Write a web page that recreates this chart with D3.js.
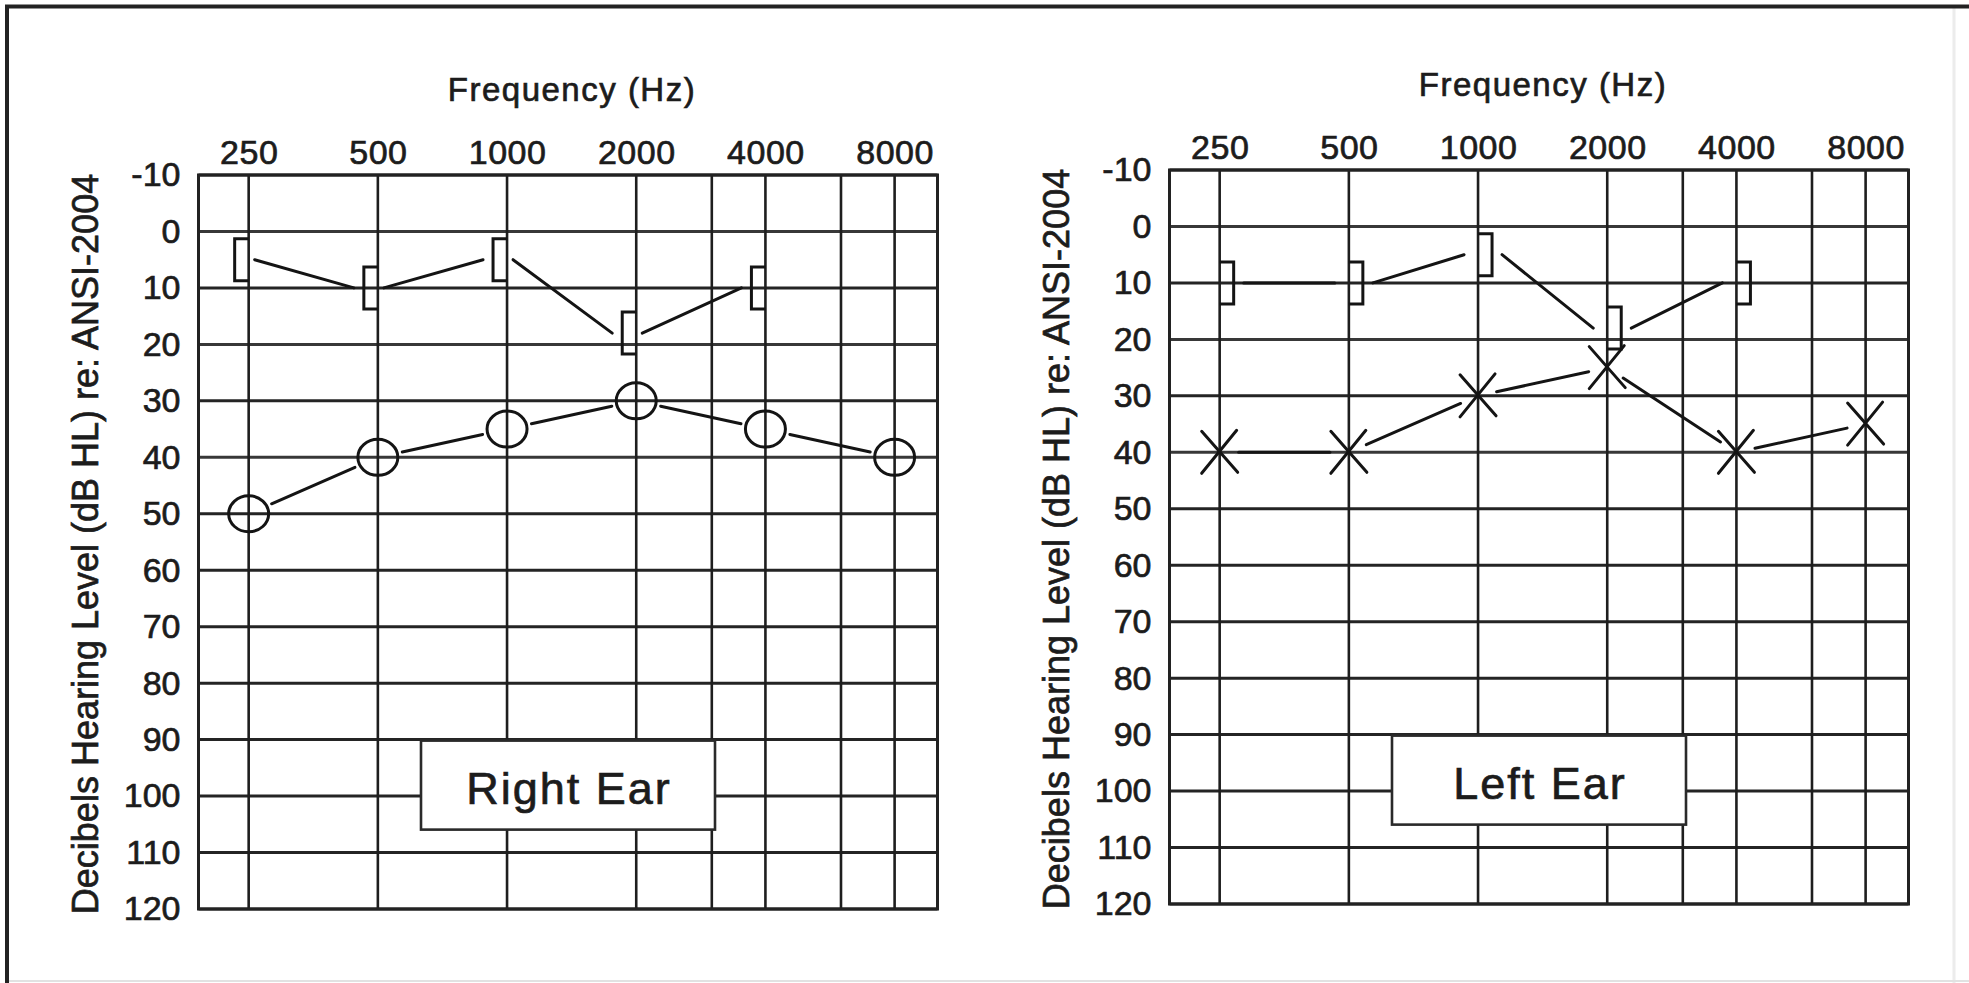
<!DOCTYPE html>
<html><head><meta charset="utf-8">
<script src="https://cdn.jsdelivr.net/npm/d3@7"></script>
<style>
html,body{margin:0;padding:0;background:#fff;}
svg{display:block;}
</style></head><body>
<svg id="chart" width="1969" height="983"></svg>
<script>
// ---- data ----
const labelFreqs = [250, 500, 1000, 2000, 4000, 8000];
const freqLabels = ["250", "500", "1000", "2000", "4000", "8000"];
const gridFreqs = [250, 500, 1000, 2000, 3000, 4000, 6000, 8000];
const dbTicks = [-10, 0, 10, 20, 30, 40, 50, 60, 70, 80, 90, 100, 110, 120];
const dbLabels = ["-10", "0", "10", "20", "30", "40", "50", "60", "70", "80", "90", "100", "110", "120"];
const airFreqs = [250, 500, 1000, 2000, 4000, 8000];
const boneFreqs = [250, 500, 1000, 2000, 4000];
const rightAir = [50, 40, 35, 30, 35, 40];   // O symbols
const rightBone = [5, 10, 5, 18, 10];        // [ symbols
const leftAir = [40, 40, 30, 25, 40, 35];    // X symbols
const leftBone = [10, 10, 5, 18, 10];        // ] symbols
const freqDomain = [191, 10070];
const dbDomain = [-10, 120];
const xTitle = "Frequency (Hz)";
const yTitle = "Decibels Hearing Level (dB HL) re: ANSI-2004";
const panelNames = ["Right Ear", "Left Ear"];

// ---- layout ----
const FONT = '"Liberation Sans", Arial, Helvetica, sans-serif';
const INK = "#1c1c1c";
const svg = d3.select("#chart");

// outer scan frame
svg.append("line").attr("x1", 1954).attr("x2", 1954).attr("y1", 8).attr("y2", 983)
  .attr("stroke", "#ececec").attr("stroke-width", 3);
svg.append("line").attr("x1", 5).attr("x2", 1969).attr("y1", 981).attr("y2", 981)
  .attr("stroke", "#e2e2e2").attr("stroke-width", 2);
svg.append("line").attr("x1", 5).attr("x2", 1969).attr("y1", 6.5).attr("y2", 6.5)
  .attr("stroke", "#222").attr("stroke-width", 4);
svg.append("line").attr("x1", 7).attr("x2", 7).attr("y1", 5).attr("y2", 983)
  .attr("stroke", "#222").attr("stroke-width", 4);

const panels = [
  {x0: 198.5, x1: 937.5, y0: 175, y1: 909, ear: "right", air: rightAir, bone: rightBone, name: panelNames[0]},
  {x0: 1169.5, x1: 1908.5, y0: 170, y1: 904, ear: "left", air: leftAir, bone: leftBone, name: panelNames[1]}
];

function trimmed(a, b, g0, g1) {
  const dx = b[0] - a[0], dy = b[1] - a[1];
  const L = Math.hypot(dx, dy);
  const ux = dx / L, uy = dy / L;
  return [[a[0] + ux * g0, a[1] + uy * g0], [b[0] - ux * g1, b[1] - uy * g1]];
}

function heavy(sel) {
  sel.attr("stroke", INK).attr("stroke-width", 0.7).attr("paint-order", "stroke");
}

panels.forEach(p => {
  const x = d3.scaleLog().domain(freqDomain).range([p.x0, p.x1]);
  const y = d3.scaleLinear().domain(dbDomain).range([p.y0, p.y1]);
  const g = svg.append("g");

  // grid
  g.selectAll("line.hg").data(dbTicks).join("line").attr("class", "hg")
    .attr("x1", p.x0).attr("x2", p.x1).attr("y1", d => y(d)).attr("y2", d => y(d))
    .attr("stroke", d => (d === 0 || d === 20 || d === 40) ? "#383838" : "#242424")
    .attr("stroke-width", 3);
  g.selectAll("line.vg").data(gridFreqs).join("line").attr("class", "vg")
    .attr("x1", d => x(d)).attr("x2", d => x(d)).attr("y1", p.y0).attr("y2", p.y1)
    .attr("stroke", "#1e1e1e").attr("stroke-width", 2.6);
  g.append("rect").attr("x", p.x0).attr("y", p.y0)
    .attr("width", p.x1 - p.x0).attr("height", p.y1 - p.y0)
    .attr("fill", "none").attr("stroke", "#222").attr("stroke-width", 3);

  // axes (labels only)
  const xAxis = d3.axisTop(x).tickValues(labelFreqs)
    .tickFormat((d, i) => freqLabels[i]).tickSize(0).tickPadding(11);
  const gx = g.append("g").attr("transform", `translate(0,${p.y0})`).call(xAxis);
  gx.select(".domain").remove();
  gx.attr("font-size", 34).attr("font-family", FONT).attr("color", INK);
  gx.selectAll("text").attr("letter-spacing", "0.5px").call(heavy);

  const yAxis = d3.axisLeft(y).tickValues(dbTicks)
    .tickFormat((d, i) => dbLabels[i]).tickSize(0).tickPadding(18);
  const gy = g.append("g").attr("transform", `translate(${p.x0},0)`).call(yAxis);
  gy.select(".domain").remove();
  gy.attr("font-size", 34).attr("font-family", FONT).attr("color", INK);
  gy.selectAll("text").call(heavy);

  // titles
  const cx = (p.x0 + p.x1) / 2;
  g.append("text").attr("x", cx + 4).attr("y", p.y0 - 74)
    .attr("text-anchor", "middle").attr("font-family", FONT).attr("font-size", 33)
    .attr("letter-spacing", "1.5px").attr("fill", INK).text(xTitle).call(heavy);
  const ly = (p.y0 + p.y1) / 2 + 2;
  g.append("text").attr("transform", `translate(${p.x0 - 100.5},${ly}) rotate(-90)`)
    .attr("text-anchor", "middle").attr("font-family", FONT).attr("font-size", 36)
    .attr("fill", INK).text(yTitle).call(heavy);

  // legend box
  const bw = 294, bh = 89, by = y(90) + 1;
  g.append("rect").attr("x", cx - bw / 2).attr("y", by).attr("width", bw).attr("height", bh)
    .attr("fill", "#fff").attr("stroke", "#2a2a2a").attr("stroke-width", 2.6);
  g.append("text").attr("x", cx + 1).attr("y", by + 63)
    .attr("text-anchor", "middle").attr("font-family", FONT).attr("font-size", 45)
    .attr("letter-spacing", "2px").attr("fill", INK).text(p.name).call(heavy);

  const mk = g.append("g").attr("stroke", "#141414").attr("stroke-width", 3)
    .attr("fill", "none").attr("stroke-linecap", "round");

  // air conduction
  const airPts = airFreqs.map((f, i) => [x(f), y(p.air[i])]);
  const gap = p.ear === "right" ? 25 : 19;
  for (let i = 0; i < airPts.length - 1; i++) {
    const [s, e] = trimmed(airPts[i], airPts[i + 1], gap, gap);
    mk.append("line").attr("x1", s[0]).attr("y1", s[1]).attr("x2", e[0]).attr("y2", e[1]);
  }
  if (p.ear === "right") {
    mk.selectAll("ellipse").data(airPts).join("ellipse")
      .attr("cx", d => d[0]).attr("cy", d => d[1]).attr("rx", 20).attr("ry", 18);
  } else {
    airPts.forEach(d => {
      mk.append("line").attr("x1", d[0] - 18).attr("y1", d[1] - 21).attr("x2", d[0] + 18).attr("y2", d[1] + 20);
      mk.append("line").attr("x1", d[0] + 17).attr("y1", d[1] - 22).attr("x2", d[0] - 18).attr("y2", d[1] + 21);
    });
  }

  // bone conduction (masked) brackets
  const bonePts = boneFreqs.map((f, i) => [x(f), y(p.bone[i])]);
  const dir = p.ear === "right" ? -1 : 1;
  const bo = 14, bh2 = 21;
  bonePts.forEach(d => {
    const bx = d[0] + dir * bo;
    mk.append("path").attr("stroke-linecap", "butt")
      .attr("d", `M${d[0]},${d[1] - bh2}H${bx}V${d[1] + bh2}H${d[0]}`);
  });
  for (let i = 0; i < bonePts.length - 1; i++) {
    const a = bonePts[i], b = bonePts[i + 1];
    let s, e;
    if (p.ear === "right") {
      s = [a[0] + 6, a[1]]; e = [b[0] - bo - 10, b[1]];
    } else {
      s = [a[0] + bo + 10, a[1]]; e = [b[0] - 14, b[1]];
    }
    mk.append("line").attr("x1", s[0]).attr("y1", s[1]).attr("x2", e[0]).attr("y2", e[1]);
  }
});
</script>
</body></html>
